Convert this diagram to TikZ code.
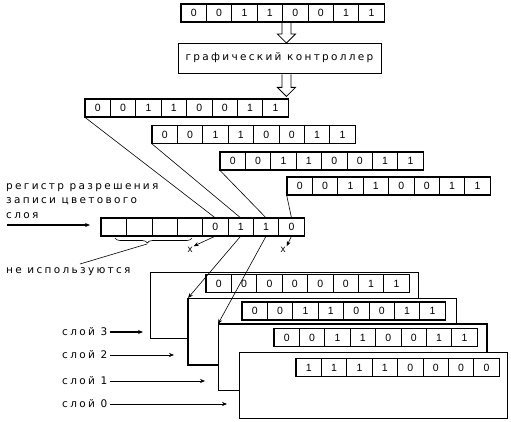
\documentclass[tikz,border=0pt]{standalone}
\usepackage{fontspec}
\setmainfont{DejaVu Sans}
\newfontfamily\digfont{Liberation Sans}
\newfontfamily\lblfont[LetterSpace=22]{DejaVu Sans}
\usetikzlibrary{arrows.meta,decorations.pathreplacing}

\begin{document}
\begin{tikzpicture}[x=1pt,y=-1pt,
		bit/.style={draw,line width=0.7pt,minimum width=25.4pt,minimum height=17.5pt,inner sep=0pt,font=\digfont\fontsize{10.5}{10.5}\selectfont},
		regbox/.style={line width=1.6pt},
		txt/.style={font=\lblfont\fontsize{10.5}{14.5}\selectfont,inner sep=0pt},
		layer/.style={draw,fill=white,line width=0.8pt,minimum width=268pt,minimum height=66pt,inner sep=0pt,anchor=north west},
		wire/.style={line width=0.6pt},
		tip/.style={-{Stealth[length=5pt,width=4pt]}}]
		\useasboundingbox (0,0) rectangle (511,422);
		
		% incoming byte
		\foreach \b [count=\i] in {0,0,1,1,0,0,1,1}
			\node[bit] (top\i) at ({181+25.4*\i-12.7},13) {\b};
		\draw[regbox] (top1.north west) rectangle (top8.south east);
		\draw[line width=0.8pt] (top4.south east) ++(-1,1) -- ++(0,11) -- ++(-4.5,0) -- ++(9,9) -- ++(9,-9) -- ++(-4.5,0) -- ++(0,-11);
		
		\node[draw,line width=0.8pt,minimum width=203pt,minimum height=30pt,txt] (ctrl) at (279.5,58) {графический контроллер};
		\draw[line width=0.8pt] (ctrl.south -| top4.south east) ++(-1,1) -- ++(0,13) -- ++(-4.5,0) -- ++(9,9) -- ++(9,-9) -- ++(-4.5,0) -- ++(0,-13);
		
		% copies for the four layers
		\foreach \b [count=\i] in {0,0,1,1,0,0,1,1}{
			\node[bit] (ra\i) at ({85+25.4*\i-12.7},108) {\b};
			\node[bit] (rb\i) at ({152+25.4*\i-12.7},134.5) {\b};
			\node[bit] (rc\i) at ({220+25.4*\i-12.7},161) {\b};
			\node[bit] (rd\i) at ({287+25.4*\i-12.7},186) {\b};
		}
		\foreach \r in {ra,rb,rc,rd}
			\draw[regbox] (\r1.north west) rectangle (\r8.south east);
		
		% mask register
		\foreach \i in {1,...,4}
			\node[bit,line width=0.5pt] (m\i) at ({101+25.4*\i-12.7},227) {};
		\foreach \b [count=\i from 5] in {0,1,1,0}
			\node[bit] (m\i) at ({101+25.4*\i-12.7},227) {\b};
		\draw[regbox] (m1.north west) rectangle (m8.south east);
		
		\draw[wire] (ra1.south west) -- (m5.north);
		\draw[wire] (rb1.south west) -- (m6.north);
		\draw[wire] (rc1.south west) -- (m7.north);
		\draw[wire] (rd1.south west) -- (m8.north);
		
		\node[txt,anchor=west,align=left] (wlab) at (6,201) {регистр разрешения\\записи цветового\\слоя};
		\coordinate (win) at (7,225);
		\coordinate (wend) at (90,225);
		\draw[tip,line width=1.2pt] (win) -- (wend);
		
		% unused bits
		\draw[wire,decorate,decoration={brace,mirror,amplitude=5pt,aspect=0.42}] (115,238) -- (192,238);
		\coordinate (btip) at (147,244);
		\node[txt,anchor=west] (nu) at (6,272) {не используются};
		\coordinate (nuend) at (80,264);
		\draw[wire] (btip) -- (nuend);
		
		\node[font=\digfont\fontsize{10}{10}\selectfont,inner sep=1pt] (x3) at (190,250) {x};
		\node[font=\digfont\fontsize{10}{10}\selectfont,inner sep=1pt] (x0) at (283,250) {x};
		\draw[wire,tip] (m5.south) -- (x3.north east);
		\draw[wire,tip] (m8.south) -- (x0.north east);
		
		% colour layers, back to front
		\node[layer] (lay3) at (150,272) {};
		\foreach \b [count=\i] in {0,0,0,0,0,0,1,1}
			\node[bit] (ya\i) at ({206+25.4*\i-12.7},283.5) {\b};
		\draw[regbox] (ya1.north west) rectangle (ya8.south east);
		
		\node[layer] (lay2) at (188,298) {};
		\draw[line width=2pt] (lay2.north west) |- (lay2.south east);
		\foreach \b [count=\i] in {0,0,1,1,0,0,1,1}
			\node[bit] (yb\i) at ({242+25.4*\i-12.7},311) {\b};
		\draw[regbox] (yb1.north west) rectangle (yb8.south east);
		
		\node[layer] (lay1) at (218,324) {};
		\draw[line width=2pt] (lay1.north west) -| (lay1.south east);
		\foreach \b [count=\i] in {0,0,1,1,0,0,1,1}
			\node[bit] (yc\i) at ({274+25.4*\i-12.7},337.5) {\b};
		\draw[line width=1pt] (yc1.north west) rectangle (yc8.south east);
		
		\node[layer] (lay0) at (239,352) {};
		\foreach \b [count=\i] in {1,1,1,1,0,0,0,0}
			\node[bit] (yd\i) at ({296+25.4*\i-12.7},367.5) {\b};
		\draw[line width=1pt] (yd1.north west) rectangle (yd8.south east);
		
		\draw[wire,tip] (m6.south) -- (lay2.north west);
		\draw[wire,tip] (m7.south) -- (lay1.north west);
		
		% layer names
		\node[txt,anchor=west] (s3) at (62,332) {слой 3};
		\node[txt,anchor=west] (s2) at (62,355) {слой 2};
		\node[txt,anchor=west] (s1) at (62,381) {слой 1};
		\node[txt,anchor=west] (s0) at (62,404) {слой 0};
		\coordinate (e3) at (143,332);
		\coordinate (e2) at (174,355);
		\coordinate (e1) at (205,381);
		\coordinate (e0) at (227,404);
		\draw[tip,line width=1.4pt,shorten <=3pt] (s3.east) -- (e3);
		\draw[tip,wire,shorten <=3pt] (s2.east) -- (e2);
		\draw[tip,wire,shorten <=3pt] (s1.east) -- (e1);
		\draw[tip,wire,shorten <=3pt] (s0.east) -- (e0);
	\end{tikzpicture}
\end{document}
